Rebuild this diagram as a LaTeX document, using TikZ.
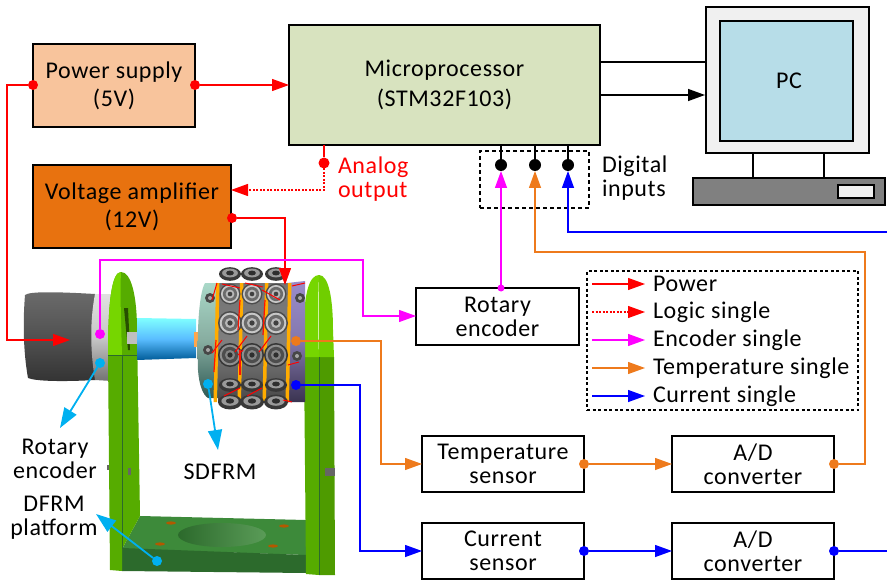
\documentclass[tikz,border=0pt]{standalone}
\usepackage{fontspec}
\setmainfont{Carlito}[LetterSpace=2.5]
\usetikzlibrary{arrows.meta,calc}
\definecolor{cpow}{HTML}{F8C49C}
\definecolor{cmcu}{HTML}{D8E3BF}
\definecolor{camp}{HTML}{E8720F}
\definecolor{cscr}{HTML}{B7DDE8}
\definecolor{corg}{HTML}{EE7A1C}
\definecolor{cmag}{HTML}{FF00FF}
\definecolor{ccy}{HTML}{00B0F0}
\definecolor{gbright}{HTML}{76D600}
\definecolor{gmid}{HTML}{56AC00}
\definecolor{gdark}{HTML}{3D8A3A}
\definecolor{gdeep}{HTML}{2C6A2C}
\definecolor{cviol}{HTML}{9A8CCB}
\definecolor{cviold}{HTML}{3A3350}
\definecolor{cteal}{HTML}{A9D8C8}
\definecolor{ctead}{HTML}{2F5A55}
\tikzset{
  x=1pt,y=-1pt,
  txt/.style={font=\fontsize{24}{24}\selectfont,align=center,inner sep=0pt,outer sep=0pt,text=black},
  box/.style={draw=black,line width=1.5pt,anchor=north west,inner sep=0pt,outer sep=0pt,txt},
  tip/.style={-{Triangle[length=17pt,width=12pt]}},
  bigtip/.style={-{Triangle[length=20pt,width=14pt]}},
  wire/.style={line width=1.3pt},
  dotn/.style={circle,inner sep=0pt,outer sep=0pt,minimum size=#1,fill},
  dotn/.default=10pt,
  dashbox/.style={draw=black,outer sep=0pt,line width=1.8pt,dash pattern=on 4pt off 3pt},
}
\newcommand{\rollerat}[3]{% x y r
  \fill[black!70] (#1,#2) circle (#3);
  \fill[black!22] (#1,#2) circle (#3*0.86);
  \fill[black!58] (#1,#2) circle (#3*0.68);
  \fill[black!28] (#1,#2) circle (#3*0.42);
  \fill[black!75] (#1,#2) circle (#3*0.22);
}
\newcommand{\flatroller}[3]{% x y r
  \fill[black!78] (#1,#2) ellipse ({#3} and {#3*0.62});
  \fill[black!40] (#1,#2-1) ellipse ({#3*0.72} and {#3*0.4});
  \fill[black!82] (#1,#2-1) ellipse ({#3*0.35} and {#3*0.22});
}
\begin{document}
\begin{tikzpicture}
\useasboundingbox (0,0) rectangle (887,583);
% ---------- photo: motor
\shade[top color=black!58,bottom color=black!80,middle color=black!68] (25,295) .. controls (30,291) and (60,292) .. (95,294) -- (95,380) .. controls (60,382) and (35,381) .. (28,378) .. controls (23,350) and (23,320) .. (25,295) -- cycle;
\shade[top color=black!12,bottom color=black!55,middle color=black!22] (95,294) -- (112,294) -- (112,381) -- (95,380) .. controls (90,350) and (90,320) .. (95,294) -- cycle;
% base
\fill[gdark] (122,549) -- (140,516) -- (306,520) -- (306,555) -- cycle;
\fill[gdeep] (122,548) -- (306,555) -- (306,573) -- (122,571) -- cycle;
\shade[left color=gdeep,right color=gdark!85] (222,535) ellipse (44 and 12);
\foreach \a/\b in {171/523,284/526,160/544,273/546}{\fill[orange!70!black] (\a,\b) ellipse (5 and 1.6);}
% left plate
\fill[gmid] (108,355) .. controls (108,300) and (112,272) .. (121,272) .. controls (131,272) and (137,295) .. (137,330) -- (140,516) -- (122,549) -- (122,571) -- (110,570) -- cycle;
\fill[gbright] (108,355) .. controls (108,300) and (112,272) .. (121,272) .. controls (120,290) and (121,320) .. (122,355) -- cycle;
\draw[gdeep,line width=.7pt] (108,355) -- (137,355);
\draw[gdeep,line width=.7pt] (122,355) -- (122,549);
\fill[black!55!gmid] (124,308) -- (128,350) -- (130,350) -- (128,308) -- cycle;
\fill[black!60] (128,468) rectangle (131,475);
\fill[black!60] (107,465) rectangle (109,470);
% coupling
\shade[top color=cyan!50,bottom color=blue!40!cyan!60!black,middle color=cyan!60!blue!65] (137,318) -- (196,319) -- (196,358) -- (137,360) -- cycle;
\fill[black!25] (127,332) rectangle (137,344);
\fill[orange!70] (194,332) rectangle (199,347);
% right plate
\fill[gmid] (304,357) -- (319,357) -- (319,575) -- (306,574) -- cycle;
\fill[gmid!90!black] (319,357) -- (334,357) -- (335,575) -- (319,575) -- cycle;
\fill[gbright!80!gmid] (319,275) .. controls (329,275) and (333,300) .. (333,330) -- (334,357) -- (319,357) -- cycle;
\fill[gbright] (304,357) -- (304,325) .. controls (304,295) and (309,275) .. (319,275) .. controls (318,300) and (318,330) .. (319,357) -- cycle;
\draw[gdeep,line width=.7pt] (319,357) -- (319,575);
\fill[black!60] (325,468) rectangle (335,476);
% drum
\shade[top color=cteal,bottom color=ctead,middle color=cteal!80!black] (205,283) .. controls (198,295) and (197,340) .. (198,370) .. controls (199,385) and (203,395) .. (208,398) -- (218,398) -- (218,283) -- cycle;
\shade[top color=cviol,bottom color=cviold,middle color=cviol!85!black] (287,283) -- (305,281) -- (305,402) -- (287,402) -- cycle;
\shade[top color=black!55,bottom color=black!72,middle color=black!50] (218,283) rectangle (288,402);
\foreach \a in {216,240,265,288}{\fill[orange!65!yellow] (\a,283) -- (\a+3.5,283) -- (\a+1,402) -- (\a-2.5,402) -- cycle;}
\foreach \a in {230,252,276}{
  \flatroller{\a}{274}{11}
  \rollerat{\a}{294}{10.5}
  \rollerat{\a}{323}{12}
  \rollerat{\a}{355}{12}
  \fill[black,opacity=.28] (\a,355) circle (12);
  \flatroller{\a}{385}{11}
  \flatroller{\a}{402}{12}
}
\foreach \a/\b in {208/350,300/298,210/298,297/356}{\fill[black!72] (\a,\b) circle (5); \fill[black!35] (\a,\b) circle (2);}
\foreach \a/\b/\c/\d in {217/283/212/300, 240/288/222/284, 263/287/245/283, 280/300/262/290, 222/340/212/353, 247/336/235/352, 271/336/259/352, 292/286/305/283, 243/350/238/355, 288/365/299/362, 224/396/240/388, 247/396/262/388, 283/400/292/402}{
  \draw[red,line width=1pt] (\a,\b) -- (\c,\d);}
\foreach \a/\b/\c/\d in {240/300/238/330, 265/300/263/335, 216/340/214/372, 240/350/240/375}{
  \draw[red!85!orange,line width=1.2pt] (\a,\b) -- (\c,\d);}
% ---------- blocks
\node[box,fill=cpow,minimum width=162pt,minimum height=83pt] (ps) at (33,44) {Power supply\\[4pt](5V)};
\node[box,fill=cmcu,minimum width=311pt,minimum height=120pt] (mcu) at (289,25) {Microprocessor\\[6pt](STM32F103)};
\node[box,fill=camp,minimum width=198pt,minimum height=83pt] (amp) at (33,165) {Voltage amplifier\\[4pt](12V)};
\node[box,minimum width=163pt,minimum height=57pt] (enc) at (416,288) {Rotary\\encoder};
\node[box,minimum width=162pt,minimum height=56pt] (tmp) at (422,436) {Temperature\\sensor};
\node[box,minimum width=162pt,minimum height=56pt] (adt) at (672,436) {A/D\\converter};
\node[box,minimum width=162pt,minimum height=56pt] (cur) at (422,523) {Current\\sensor};
\node[box,minimum width=162pt,minimum height=56pt] (adc) at (672,523) {A/D\\converter};
% PC
\node[draw=black,line width=1.5pt,fill=black!6,outer sep=0pt,anchor=north west,minimum width=163pt,minimum height=146pt] (mon) at (706,7) {};
\node[box,fill=cscr,minimum width=133pt,minimum height=120pt] (scr) at (720,21) {\hspace*{5pt}PC};
\node[draw=black,line width=1.5pt,fill=black!50,outer sep=0pt,anchor=north west,minimum width=192pt,minimum height=27pt] (base) at (693,178) {};
\node[draw=black,line width=1.3pt,fill=black!6,outer sep=0pt,anchor=north west,minimum width=36pt,minimum height=13pt] (slot) at (838,185) {};
\draw[line width=1.3pt] (753,153) -- (753,178);
\draw[line width=1.3pt] (824,153) -- (824,178);
% dashed digital box
\node[dashbox,anchor=north west,minimum width=109pt,minimum height=57pt] (dig) at (480,151) {};
\node[txt,anchor=west,align=left] (diglab) at (602,178.5) {Digital\\inputs};
% dots
\node[dotn=12pt,fill=black] (d1) at (501,165) {};
\node[dotn=12pt,fill=black] (d2) at (535,165) {};
\node[dotn=12pt,fill=black] (d3) at (568,165) {};
\coordinate (m1) at (501,145); \coordinate (m2) at (535,145); \coordinate (m3) at (568,145);
\draw[line width=1.3pt] (m1) -- (d1); \draw[line width=1.3pt] (m2) -- (d2); \draw[line width=1.3pt] (m3) -- (d3);
\coordinate (t1) at (501,171); \coordinate (t2) at (535,171); \coordinate (t3) at (568,171);
% PC links
\coordinate (a1) at (600,62); \coordinate (b1) at (706,62);
\coordinate (a2) at (600,95); \coordinate (b2) at (705,95);
\draw[line width=1.4pt] (a1) -- (b1);
\draw[line width=1.4pt,tip] (a2) -- (b2);
% red
\node[dotn,fill=red] (psl) at (33,85) {};
\node[dotn,fill=red] (psr) at (195,85) {};
\coordinate (motor) at (70,340);
\draw[wire,red,tip] (psl) -- (7,85) -- (7,340) -- (motor);
\draw[wire,red,tip] (psr) -- (mcu.west |- psr);
\node[dotn=11pt,fill=red] (ana) at (324,163) {};
\draw[wire,red] (ana |- mcu.south) -- (ana);
\draw[wire,red,dash pattern=on 2pt off 1.5pt,tip] (ana) -- (324,190) -- (amp.east |- 0,190);
\node[txt,text=red,anchor=west,align=left] (analab) at (338,179.5) {Analog\\output};
\node[dotn,fill=red] (ampo) at (232,218) {};
\coordinate (sd) at (285,285);
\draw[wire,red,tip] (ampo) -- (285,218) -- (sd);
% magenta
\node[dotn,fill=cmag] (me) at (100,334) {};
\draw[wire,cmag,tip] (me) -- (100,260) -- (363,260) -- (363,316) -- (enc.west |- 0,316);
\node[dotn=7pt,fill=cmag] (enct) at (501,288) {};
\draw[wire,cmag,tip] (enct) -- (t1);
% orange
\node[dotn,fill=corg] (ot) at (296,341) {};
\draw[wire,corg,tip] (ot) -- (381,341) -- (381,464) -- (tmp.west);
\node[dotn,fill=corg] (tr) at (584,464) {};
\draw[wire,corg,tip] (tr) -- (adt.west);
\node[dotn,fill=corg] (atr) at (834,464) {};
\draw[wire,corg,tip] (atr) -- (865,464) -- (865,252) -- (535,252) -- (t2);
% blue
\node[dotn,fill=blue] (bt) at (296,385) {};
\draw[wire,blue,tip] (bt) -- (360,385) -- (360,551) -- (cur.west);
\node[dotn,fill=blue] (cr) at (584,551) {};
\draw[wire,blue,tip] (cr) -- (adc.west);
\node[dotn,fill=blue] (acr) at (834,551) {};
\coordinate (offr) at (887,551);
\draw[wire,blue] (acr) -- (offr);
\coordinate (offt) at (887,232);
\draw[wire,blue,tip] (offt) -- (568,232) -- (t3);
% cyan pointers
\node[dotn,fill=ccy] (c1) at (100,363) {};
\coordinate (c1e) at (60,428);
\draw[line width=1.8pt,ccy,bigtip] (c1) -- (c1e);
\node[dotn,fill=ccy] (c2) at (208,384) {};
\coordinate (c2e) at (218,450);
\draw[line width=1.8pt,ccy,bigtip] (c2) -- (c2e);
\node[dotn,fill=ccy] (c3) at (157,561) {};
\coordinate (c3e) at (96,514);
\draw[line width=1.8pt,ccy,bigtip] (c3) -- (c3e);
\node[txt] (lrot) at (55,459) {Rotary\\encoder};
\node[txt] (lsd) at (220,472) {SDFRM};
\node[txt] (ldf) at (54,518) {DFRM\\platform};
% legend
\node[dashbox,line width=1.4pt,dash pattern=on 3pt off 2.5pt,anchor=north west,minimum width=271pt,minimum height=139pt] (leg) at (587,271) {};
\foreach \n/\y/\t in {a/284/Power,b/312/Logic single,c/340/Encoder single,d/368/Temperature single,e/396/Current single}{
  \coordinate (la\n) at (592,\y);
  \coordinate (lb\n) at (645,\y);
  \node[txt,anchor=west] (lt\n) at (653,\y) {\t};
}
\draw[wire,red,tip] (laa) -- (lba);
\draw[wire,red,dash pattern=on 2pt off 1.5pt,tip] (lab) -- (lbb);
\draw[wire,cmag,tip] (lac) -- (lbc);
\draw[wire,corg,tip] (lad) -- (lbd);
\draw[wire,blue,tip] (lae) -- (lbe);
\end{tikzpicture}
\end{document}
